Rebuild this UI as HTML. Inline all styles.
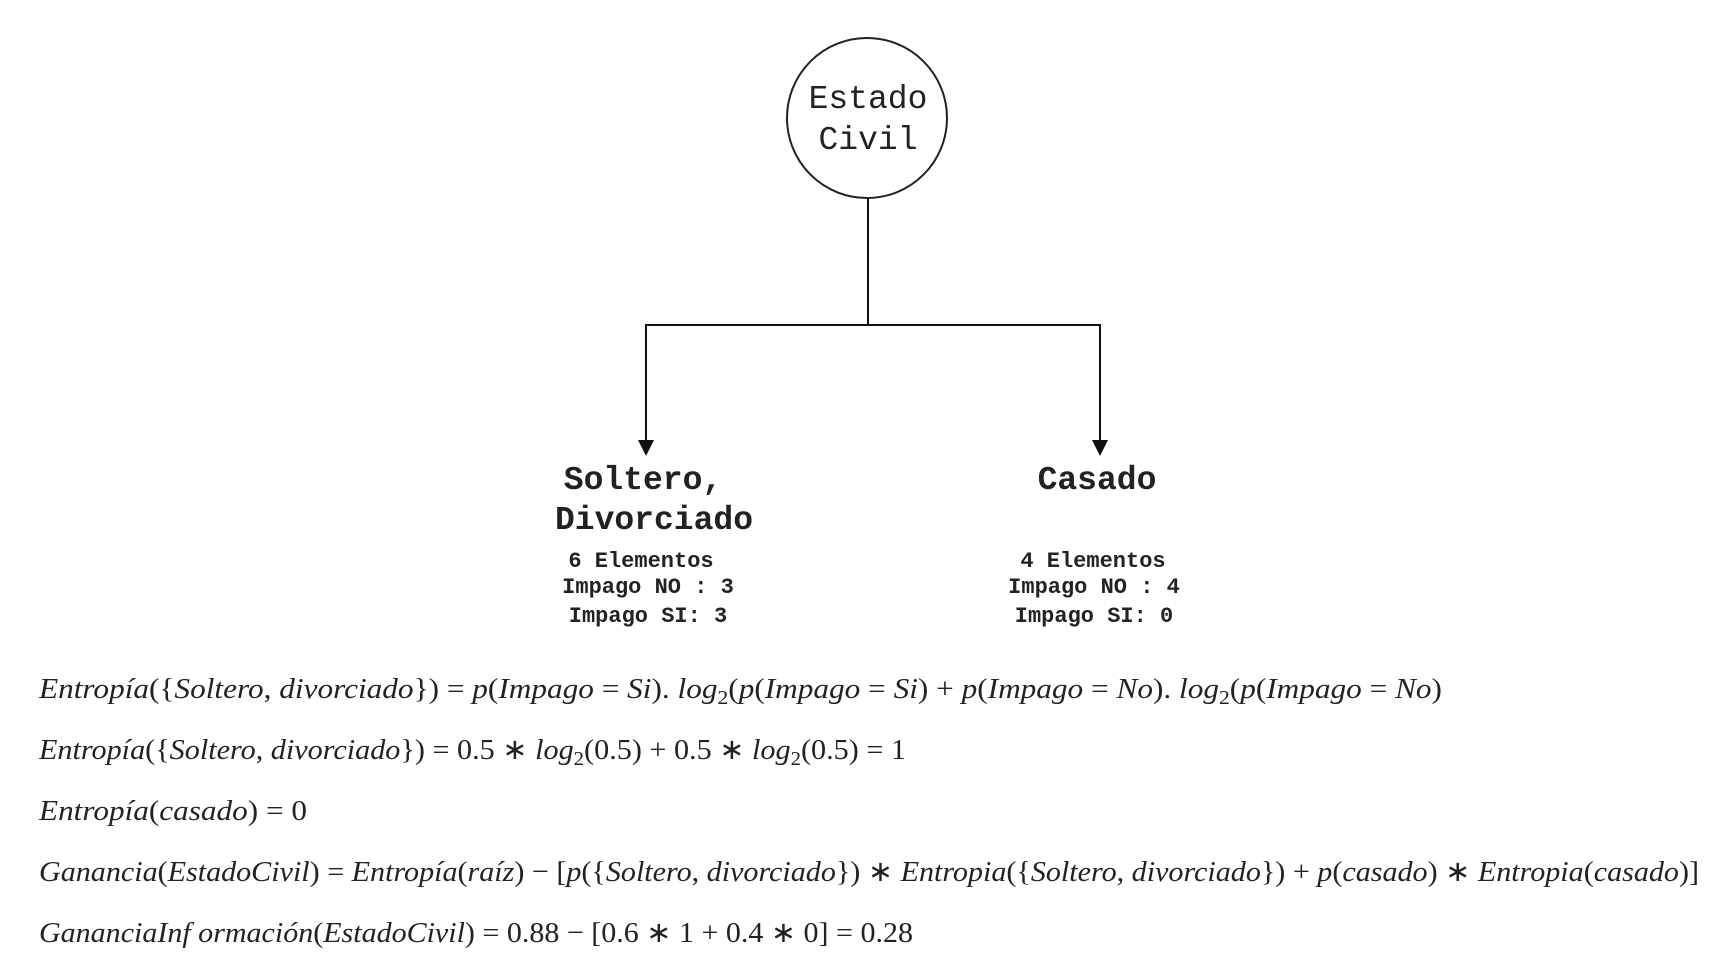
<!DOCTYPE html>
<html><head><meta charset="utf-8"><style>
html,body{margin:0;padding:0;background:#fff;}
svg{display:block}
.m{font-family:"Liberation Serif",serif;font-size:29px;fill:#222}
.i{font-style:italic}
.c{font-family:"Liberation Mono",monospace;fill:#222}
</style></head><body>
<svg width="1731" height="953" viewBox="0 0 1731 953" xmlns="http://www.w3.org/2000/svg">
<circle cx="867" cy="118" r="80" fill="none" stroke="#222" stroke-width="2"/>
<text class="c" x="868" y="108" font-size="33" text-anchor="middle">Estado</text>
<text class="c" x="868" y="149" font-size="33" text-anchor="middle">Civil</text>
<g stroke="#111" stroke-width="2" fill="none">
<line x1="868" y1="198" x2="868" y2="325"/>
<polyline points="646,444 646,325 1100,325 1100,444"/>
</g>
<polygon points="638,440 654,440 646,456" fill="#111"/>
<polygon points="1092,440 1108,440 1100,456" fill="#111"/>
<g class="c" font-weight="bold" text-anchor="middle">
<text x="643" y="489" font-size="33">Soltero,</text>
<text x="654" y="529" font-size="33">Divorciado</text>
<text x="1097" y="489" font-size="33">Casado</text>
<text x="641" y="567" font-size="22">6 Elementos</text>
<text x="648" y="593" font-size="22">Impago NO : 3</text>
<text x="648" y="622" font-size="22">Impago SI: 3</text>
<text x="1093" y="567" font-size="22">4 Elementos</text>
<text x="1094" y="593" font-size="22">Impago NO : 4</text>
<text x="1094" y="622" font-size="22">Impago SI: 0</text>
</g>
<text class="m" x="39" y="698" textLength="1403" lengthAdjust="spacingAndGlyphs"><tspan class="i">Entropía</tspan>({<tspan class="i">Soltero</tspan>, <tspan class="i">divorciado</tspan>}) = <tspan class="i">p</tspan>(<tspan class="i">Impago</tspan> = <tspan class="i">Si</tspan>). <tspan class="i">log</tspan><tspan font-size="20" dy="6">2</tspan><tspan dy="-6">(</tspan><tspan class="i">p</tspan>(<tspan class="i">Impago</tspan> = <tspan class="i">Si</tspan>) + <tspan class="i">p</tspan>(<tspan class="i">Impago</tspan> = <tspan class="i">No</tspan>). <tspan class="i">log</tspan><tspan font-size="20" dy="6">2</tspan><tspan dy="-6">(</tspan><tspan class="i">p</tspan>(<tspan class="i">Impago</tspan> = <tspan class="i">No</tspan>)</text>
<text class="m" x="39" y="759" textLength="867" lengthAdjust="spacingAndGlyphs"><tspan class="i">Entropía</tspan>({<tspan class="i">Soltero</tspan>, <tspan class="i">divorciado</tspan>}) = 0.5 ∗ <tspan class="i">log</tspan><tspan font-size="20" dy="6">2</tspan><tspan dy="-6">(0.5) + 0.5 ∗ </tspan><tspan class="i">log</tspan><tspan font-size="20" dy="6">2</tspan><tspan dy="-6">(0.5) = 1</tspan></text>
<text class="m" x="39" y="820" textLength="268" lengthAdjust="spacingAndGlyphs"><tspan class="i">Entropía</tspan>(<tspan class="i">casado</tspan>) = 0</text>
<text class="m" x="39" y="881" textLength="1660" lengthAdjust="spacingAndGlyphs"><tspan class="i">Ganancia</tspan>(<tspan class="i">EstadoCivil</tspan>) = <tspan class="i">Entropía</tspan>(<tspan class="i">raíz</tspan>) − [<tspan class="i">p</tspan>({<tspan class="i">Soltero</tspan>, <tspan class="i">divorciado</tspan>}) ∗ <tspan class="i">Entropia</tspan>({<tspan class="i">Soltero</tspan>, <tspan class="i">divorciado</tspan>}) + <tspan class="i">p</tspan>(<tspan class="i">casado</tspan>) ∗ <tspan class="i">Entropia</tspan>(<tspan class="i">casado</tspan>)]</text>
<text class="m" x="39" y="942" textLength="874" lengthAdjust="spacingAndGlyphs"><tspan class="i">GananciaInf ormación</tspan>(<tspan class="i">EstadoCivil</tspan>) = 0.88 − [0.6 ∗ 1 + 0.4 ∗ 0] = 0.28</text>
</svg>
</body></html>
